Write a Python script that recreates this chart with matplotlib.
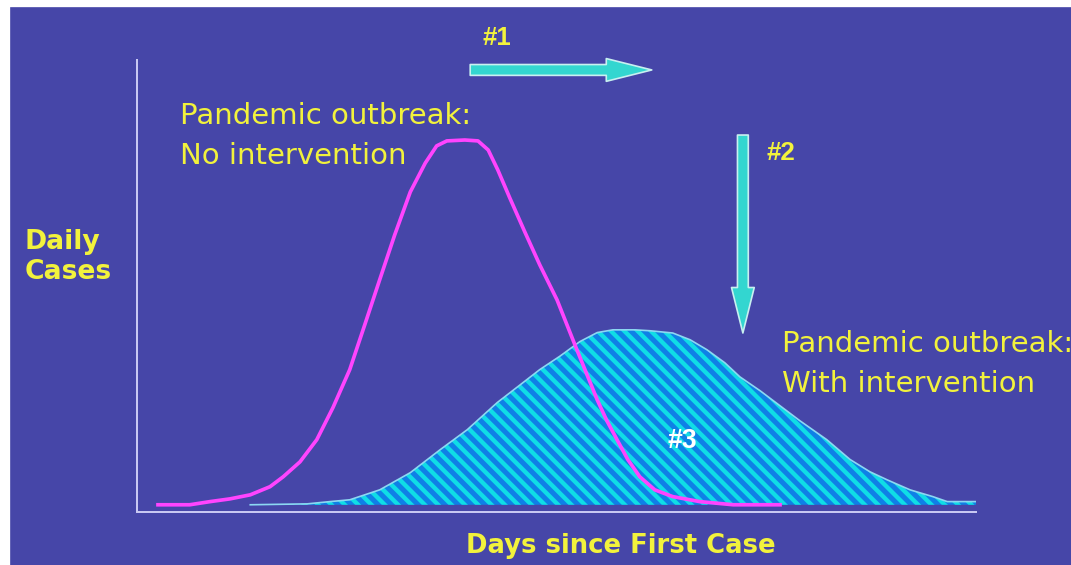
import numpy as np
import matplotlib
matplotlib.use('Agg')
import matplotlib.pyplot as plt
from matplotlib.patches import Rectangle

# curve without intervention (days since first case, daily cases)
days_no = [3.5, 8.8, 12.2, 15.5, 18.9, 22.2, 24.4, 27.2, 30.0, 32.7, 35.5, 38.0,
           40.5, 43.0, 45.6, 48.1, 50.0, 51.7, 54.7, 56.9, 58.6, 60.2, 62.2, 64.7,
           67.2, 70.1, 73.4, 76.8, 78.4, 80.1, 81.9, 83.9, 86.4, 89.4, 93.9, 99.5, 107.3]
cases_no = [0.0, 0.0, 0.7, 1.3, 2.2, 4.0, 6.2, 9.5, 14.4, 21.5, 29.9, 39.8,
            49.8, 59.7, 69.2, 75.6, 79.4, 80.5, 80.7, 80.5, 78.5, 74.1, 67.9, 60.4,
            53.1, 45.3, 34.3, 23.2, 18.6, 14.4, 10.0, 6.2, 3.3, 1.8, 0.7, 0.0, 0.0]

# curve with intervention
days_with = [18.9, 28.4, 32.2, 35.5, 40.5, 45.6, 50.6, 55.1, 60.1, 63.9, 67.2, 70.6,
             73.9, 76.8, 79.4, 83.1, 85.6, 89.4, 92.3, 95.1, 98.1, 100.6, 104.0, 107.3,
             110.6, 115.1, 119.0, 122.3, 125.2, 129.0, 132.8, 135.2, 140.2]
cases_with = [0.0, 0.2, 0.7, 1.1, 3.3, 7.1, 12.2, 16.6, 22.6, 26.5, 29.9, 32.9,
              36.1, 38.1, 38.7, 38.7, 38.5, 38.0, 36.5, 34.3, 31.4, 28.3, 25.2, 21.9,
              18.6, 14.4, 10.0, 7.3, 5.5, 3.3, 1.8, 0.7, 0.7]

BG = '#4646a8'
YELLOW = '#f2f23c'
MAGENTA = '#ff44ff'
TURQ = '#33d6d0'

plt.rcParams['hatch.color'] = '#10dde6'
plt.rcParams['hatch.linewidth'] = 2.6

fig = plt.figure(figsize=(1071 / 120, 565 / 120), dpi=120, facecolor='white')
fig.patches.append(Rectangle((11 / 1071, 0), 1 - 11 / 1071, 557 / 565,
                             transform=fig.transFigure, color=BG, zorder=-10))

ax = fig.add_axes([137 / 1071, 53 / 565, 839 / 1071, 452 / 565])
ax.set_facecolor('none')
ax.set_xlim(0, 140)
ax.set_ylim(-1.6, 98.4)

ax.fill_between(days_with, 0, cases_with, facecolor='#0f80e6', edgecolor='#10dde6',
                hatch='\\\\\\', linewidth=0, zorder=2)
ax.plot(days_with, cases_with, color='#8cd8f2', lw=1, zorder=3)
ax.plot(days_no, cases_no, color=MAGENTA, lw=2.2, zorder=4)

for s in ['top', 'right']:
    ax.spines[s].set_visible(False)
for s in ['left', 'bottom']:
    ax.spines[s].set_color('#c8c8f2')
    ax.spines[s].set_linewidth(1.2)
ax.set_xticks([])
ax.set_yticks([])

ax.set_xlabel('Days since First Case', color=YELLOW, fontsize=15.5, fontweight='bold',
              va='center')
ax.xaxis.set_label_coords(0.577, -0.075)
ax.set_ylabel('Daily\nCases', color=YELLOW, fontsize=16, fontweight='bold',
              rotation=0, ha='left', va='center', linespacing=1.2)
ax.yaxis.set_label_coords(-0.1335, 0.564)

ax.text(7.2, 75.4, 'Pandemic outbreak:\nNo intervention', color=YELLOW, fontsize=17.5,
        va='baseline', linespacing=1.55)
ax.text(107.6, 25.0, 'Pandemic outbreak:\nWith intervention', color=YELLOW,
        fontsize=17.5, va='baseline', linespacing=1.55, clip_on=False)

ax.text(57.6, 101.8, '#1', color=YELLOW, fontsize=15.5, fontweight='bold',
        family='Liberation Sans', clip_on=False)
ax.text(105.0, 76.3, '#2', color=YELLOW, fontsize=15.5, fontweight='bold',
        family='Liberation Sans')
ax.text(88.6, 12.6, '#3', color='white', fontsize=16, fontweight='bold',
        family='Liberation Sans', zorder=5)

arrow = dict(arrowstyle='simple,head_length=2.1,head_width=1.05,tail_width=0.5',
             mutation_scale=13, fc=TURQ, ec='#c8f0f0', lw=1, shrinkA=0, shrinkB=0)
ax.annotate('', xy=(85.9, 96.2), xytext=(55.6, 96.2), arrowprops=arrow,
            annotation_clip=False)
ax.annotate('', xy=(101.1, 38.0), xytext=(101.1, 81.8), arrowprops=arrow)

fig.savefig('out.png', dpi=120, facecolor='white')
